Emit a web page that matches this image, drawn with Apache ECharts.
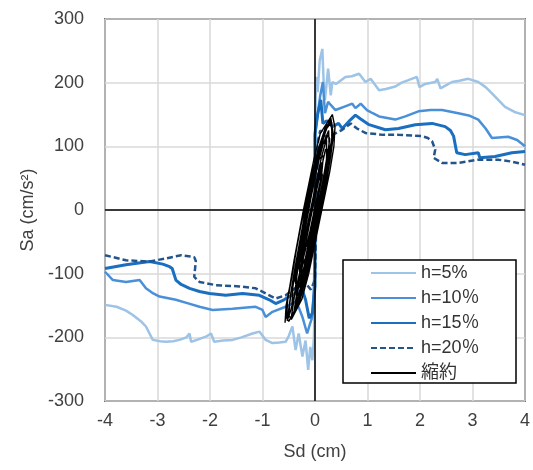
<!DOCTYPE html>
<html>
<head>
<meta charset="utf-8">
<script src="https://cdn.jsdelivr.net/npm/echarts@6/dist/echarts.min.js"></script>
<style>
  html, body { margin: 0; padding: 0; background: #fff; }
  #main { width: 533px; height: 470px; }
</style>
</head>
<body>
<div id="main"></div>
<script>
// 凡例名
var names = ['h=5%', 'h=10％', 'h=15％', 'h=20％', '縮約'];

// 軸目盛
var xTicks = [-4, -3, -2, -1, 0, 1, 2, 3, 4];
var yTicks = [-300, -200, -100, 0, 100, 200, 300];

// h=5% (Sd, Sa)
var h5 = [
  [-4.0,-149],[-3.78,-152],[-3.6,-158],[-3.47,-165],[-3.3,-176],[-3.22,-183],[-3.09,-204],[-2.95,-206],
  [-2.84,-207],[-2.7,-206],[-2.58,-204],[-2.45,-200],[-2.39,-194],[-2.36,-207],[-2.25,-204],[-2.08,-199],
  [-1.98,-194],[-1.92,-207],[-1.75,-205],[-1.57,-204],[-1.4,-200],[-1.19,-194],[-1.06,-191],[-0.94,-204],
  [-0.81,-209],[-0.68,-208],[-0.56,-207],[-0.5,-198],[-0.43,-183],[-0.37,-220],[-0.31,-194],[-0.24,-230],
  [-0.18,-205],[-0.13,-251],[-0.09,-215],[-0.05,-236],[-0.02,-200],[0.0,-115],[0.01,0],[0.0,116],
  [0.02,209],[0.05,185],[0.09,235],[0.14,253],[0.17,190],[0.19,173],[0.25,222],[0.3,180],[0.33,201],
  [0.4,198],[0.58,209],[0.7,210],[0.84,214],[0.96,201],[1.06,206],[1.22,188],[1.35,190],[1.53,194],
  [1.65,200],[1.78,204],[1.94,209],[1.99,193],[2.1,198],[2.29,201],[2.33,206],[2.39,191],[2.5,196],
  [2.61,201],[2.75,203],[2.92,206],[3.11,201],[3.25,193],[3.37,183],[3.5,172],[3.62,162],[3.8,154],[4.0,149]
];

// h=10%
var h10 = [
  [-4.0,-97],[-3.85,-110],[-3.6,-113],[-3.34,-110],[-3.22,-123],[-3.1,-130],[-2.96,-136],[-2.65,-141],
  [-2.4,-147],[-2.2,-152],[-1.95,-157],[-1.57,-155],[-1.3,-153],[-1.13,-152],[-1.0,-157],[-0.94,-168],
  [-0.81,-160],[-0.56,-152],[-0.45,-148],[-0.37,-144],[-0.3,-155],[-0.24,-168],[-0.15,-194],[-0.1,-180],
  [-0.05,-168],[-0.02,-120],[0.0,-40],[0.0,116],[0.05,150],[0.1,180],[0.15,201],[0.19,152],[0.25,170],
  [0.3,165],[0.39,157],[0.55,162],[0.71,167],[0.77,160],[0.87,167],[0.99,157],[1.1,152],[1.22,147],
  [1.53,142],[1.72,147],[1.97,155],[2.2,157],[2.42,157],[2.73,152],[2.95,148],[3.11,142],[3.25,128],
  [3.37,113],[3.5,114],[3.68,115],[3.85,110],[4.0,100]
];

// h=15%
var h15 = [
  [-4.0,-92],[-3.6,-86],[-3.15,-81],[-2.9,-85],[-2.77,-89],[-2.72,-92],[-2.65,-110],[-2.55,-117],
  [-2.39,-123],[-2.2,-128],[-2.01,-131],[-1.7,-134],[-1.38,-131],[-1.06,-134],[-0.87,-141],[-0.75,-147],
  [-0.59,-141],[-0.49,-136],[-0.37,-131],[-0.24,-126],[-0.18,-141],[-0.11,-170],[-0.05,-162],[0.0,-120],
  [0.0,120],[0.05,150],[0.11,173],[0.15,136],[0.22,140],[0.27,138],[0.33,131],[0.45,136],[0.52,128],
  [0.68,142],[0.77,149],[0.87,143],[1.03,134],[1.34,126],[1.59,128],[1.91,134],[2.23,136],[2.48,131],
  [2.58,125],[2.64,116],[2.70,90],[2.86,87],[3.11,90],[3.14,82],[3.43,84],[3.75,90],[4.0,92]
];

// h=20%
var h20 = [
  [-4.0,-71],[-3.6,-79],[-3.15,-81],[-2.84,-76],[-2.55,-71],[-2.3,-74],[-2.27,-80],[-2.30,-105],
  [-2.2,-113],[-1.89,-118],[-1.44,-120],[-1.13,-123],[-0.94,-131],[-0.75,-139],[-0.56,-134],[-0.43,-126],
  [-0.30,-118],[-0.24,-115],[-0.15,-118],[-0.08,-125],[0.0,-110],[0.03,0],[0.06,110],[0.1,125],[0.2,115],
  [0.33,118],[0.5,125],[0.68,136],[0.8,128],[0.96,121],[1.3,118],[1.59,118],[2.04,116],[2.15,113],
  [2.23,108],[2.29,95],[2.26,82],[2.42,74],[2.73,74],[3.11,79],[3.49,79],[3.75,76],[4.0,71]
];

// 縮約
var shukuyaku = [
  [-0.57,-177],[-0.55,-150],[-0.48,-120],[-0.40,-80],[-0.31,-40],[-0.22,0],[-0.12,40],[-0.02,80],
  [0.10,120],[0.33,150],[0.38,130],[0.36,100],[0.28,60],[0.18,20],[0.08,-20],[-0.02,-60],[-0.12,-100],
  [-0.25,-140],[-0.45,-172],
  [-0.5,-165],[-0.46,-130],[-0.38,-90],[-0.28,-45],[-0.18,0],[-0.08,40],[0.02,80],[0.14,115],[0.28,140],
  [0.33,125],[0.31,95],[0.24,55],[0.14,15],[0.04,-25],[-0.06,-65],[-0.16,-105],[-0.3,-145],[-0.45,-168],
  [-0.4,-140],[-0.34,-100],[-0.25,-55],[-0.15,-10],[-0.05,30],[0.05,70],[0.16,105],[0.26,125],[0.27,100],
  [0.2,60],[0.1,20],[0.0,-20],[-0.1,-60],[-0.2,-100],[-0.32,-135],
  [-0.38,-110],[-0.3,-70],[-0.2,-25],[-0.1,20],[0.0,60],[0.12,100],[0.22,110],[0.22,80],[0.14,40],
  [0.04,0],[-0.06,-40],[-0.16,-80],[-0.28,-115],
  [-0.3,-85],[-0.22,-45],[-0.12,0],[-0.02,45],[0.08,80],[0.16,85],[0.12,50],[0.03,10],[-0.07,-30],
  [-0.18,-75],[-0.28,-95],
  [-0.44,-150],[-0.42,-120],[-0.35,-85],[-0.26,-50],[-0.17,-10],[-0.07,30],[0.04,75],[0.18,118],[0.3,145],
  [0.35,118],[0.3,85],[0.22,45],[0.12,5],[0.02,-35],[-0.08,-75],[-0.2,-115],[-0.34,-150],[-0.5,-175],
  [-0.54,-170],[-0.52,-140],[-0.44,-105],[-0.36,-65],[-0.27,-25],[-0.16,15],[-0.06,55],[0.06,95],
  [0.2,130],[0.3,140],[0.34,110],[0.26,70],[0.16,30],[0.06,-10],[-0.04,-50],[-0.14,-90],[-0.26,-125],
  [-0.4,-160],
  [-0.2,-50],[-0.1,-10],[0.0,30],[0.1,65],[0.14,55],[0.06,20],[-0.04,-20],[-0.14,-55],
  [-0.24,-65],[-0.16,-30],[-0.06,10],[0.04,50],[0.12,75],[0.1,45],[0.0,5],[-0.1,-35],[-0.22,-75],
  [-0.36,-125],[-0.47,-160],[-0.53,-174],
  [-0.49,-150],[-0.43,-115],[-0.33,-70],[-0.24,-30],[-0.14,10],[-0.04,50],[0.08,92],[0.22,128],[0.32,138],
  [0.32,112],[0.25,78],[0.17,42],[0.08,5],[-0.03,-38],[-0.12,-78],[-0.22,-112],[-0.36,-148],
  [-0.32,-118],[-0.26,-78],[-0.18,-40],[-0.08,0],[0.02,42],[0.12,82],[0.24,118],[0.28,112],[0.22,72],
  [0.13,32],[0.02,-10],[-0.08,-50],[-0.18,-88],[-0.3,-122],
  [-0.26,-100],[-0.2,-62],[-0.1,-20],[0.0,20],[0.1,58],[0.2,95],[0.25,95],[0.18,60],[0.1,25],
  [-0.01,-15],[-0.12,-58],[-0.24,-100],[-0.34,-130]
];

var font = '"Liberation Sans", "Noto Sans CJK JP", sans-serif';

function line(name, data, color, width, type){
    return {
        name: name,
        type: 'line',
        data: data,
        showSymbol: false,
        symbol: 'none',
        animation: false,
        lineStyle: { color: color, width: width, type: type || 'solid' },
        itemStyle: { color: color }
    };
}

function initChart(){
    var chart = echarts.init(document.getElementById('main'));
    var series = [
        line(names[0], h5, '#9dc3e6', 2.5),
        line(names[1], h10, '#4a90d9', 2.5),
        line(names[2], h15, '#1a6fc0', 3),
        line(names[3], h20, '#24558a', 2.5, [6, 3]),
        line(names[4], shukuyaku, '#000000', 1.4)
    ];
    // 原点の軸線
    series[0].markLine = {
        silent: true,
        symbol: 'none',
        animation: false,
        label: { show: false },
        lineStyle: { color: '#000', width: 1.5, type: 'solid' },
        data: [{ xAxis: 0 }, { yAxis: 0 }]
    };
    var option = {
        animation: false,
        textStyle: { fontFamily: font },
        grid: {
            left: 105, right: 6, top: 19, bottom: 69,
            show: true, borderColor: '#000', borderWidth: 1.5
        },
        xAxis: {
            type: 'value',
            min: xTicks[0], max: xTicks[xTicks.length - 1], interval: 1,
            name: 'Sd (cm)', nameLocation: 'middle', nameGap: 42,
            nameTextStyle: { color: '#404040', fontSize: 18, fontFamily: font },
            axisLine: { show: false, onZero: false },
            axisTick: { show: false },
            axisLabel: { color: '#404040', fontSize: 18, margin: 11, fontFamily: font },
            splitLine: { show: true, lineStyle: { color: '#d9d9d9', width: 1.5 } }
        },
        yAxis: {
            type: 'value',
            min: yTicks[0], max: yTicks[yTicks.length - 1], interval: 100,
            name: 'Sa (cm/s²)', nameLocation: 'middle', nameGap: 62,
            nameTextStyle: { color: '#404040', fontSize: 18, fontFamily: font },
            axisLine: { show: false, onZero: false },
            axisTick: { show: false },
            axisLabel: { color: '#404040', fontSize: 18, margin: 21, fontFamily: font },
            splitLine: { show: true, lineStyle: { color: '#d9d9d9', width: 1.5 } }
        },
        legend: {
            data: names,
            orient: 'vertical',
            left: 370, top: 263,
            padding: 0,
            z: 10,
            itemWidth: 45, itemHeight: 14, itemGap: 5,
            itemStyle: { opacity: 0 },
            textStyle: { color: '#333', fontSize: 18, lineHeight: 20, fontFamily: font }
        },
        graphic: [{
            type: 'rect',
            z: 5,
            shape: { x: 343, y: 260, width: 173, height: 123 },
            style: { fill: '#fff', stroke: '#000', lineWidth: 1.5 }
        }],
        series: series
    };
    chart.setOption(option);
}

window.addEventListener('load', function(){
    initChart();
});
</script>
</body>
</html>
